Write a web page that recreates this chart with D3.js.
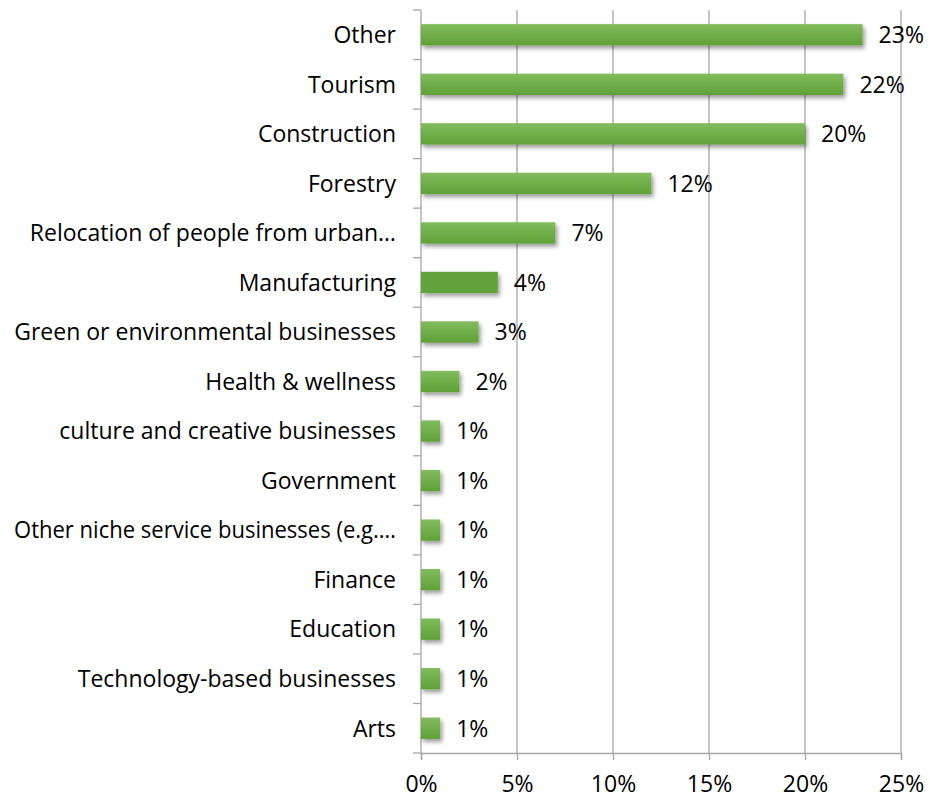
<!DOCTYPE html>
<html>
<head>
<meta charset="utf-8">
<script src="https://cdn.jsdelivr.net/npm/d3@7/dist/d3.min.js"></script>
<style>
  html, body { margin: 0; padding: 0; background: #ffffff; }
  svg { display: block; }
  text { font-family: "Open Sans", Lato, sans-serif; fill: #000; }
</style>
</head>
<body>
<svg id="chart" width="930" height="801"></svg>
<script>
// Sectors, top to bottom, with their share of responses (%)
const categories = [
  "Other",
  "Tourism",
  "Construction",
  "Forestry",
  "Relocation of people from urban…",
  "Manufacturing",
  "Green or environmental businesses",
  "Health & wellness",
  "culture and creative businesses",
  "Government",
  "Other niche service businesses (e.g.…",
  "Finance",
  "Education",
  "Technology-based businesses",
  "Arts"
];
const values = [23, 22, 20, 12, 7, 4, 3, 2, 1, 1, 1, 1, 1, 1, 1];
const xTicks = [0, 5, 10, 15, 20, 25];

const svg = d3.select("#chart");
const margin = { left: 421, right: 29, top: 10, bottom: 48 };
const W = 930, H = 801;
const fontSize = "23px";
const maxLabelWidth = 382;

const x = d3.scaleLinear().domain([0, 25]).range([margin.left, W - margin.right]);
const y = d3.scaleBand().domain(categories).range([margin.top, H - margin.bottom]).paddingInner(0.57).paddingOuter(0.285);

// bar fill gradient and soft drop shadow
const defs = svg.append("defs");
const grad = defs.append("linearGradient").attr("id", "barGrad")
  .attr("x1", 0).attr("y1", 0).attr("x2", 0).attr("y2", 1);
grad.append("stop").attr("offset", "0%").attr("stop-color", "#82bc5e");
grad.append("stop").attr("offset", "100%").attr("stop-color", "#5fa136");
const sh = defs.append("filter").attr("id", "shadow")
  .attr("x", "-20%").attr("y", "-50%").attr("width", "150%").attr("height", "250%");
sh.append("feDropShadow").attr("dx", 2).attr("dy", 3).attr("stdDeviation", 2.2)
  .attr("flood-color", "#000").attr("flood-opacity", 0.4);

// vertical gridlines
svg.append("g").selectAll("line").data(xTicks.slice(1)).join("line")
  .attr("x1", d => x(d)).attr("x2", d => x(d))
  .attr("y1", margin.top).attr("y2", H - margin.bottom)
  .attr("stroke", "#a6a6a6").attr("stroke-width", 1.3);

// bottom axis
const xAxis = d3.axisBottom(x).tickValues(xTicks).tickFormat(d => d + "%").tickSize(7).tickPadding(16);
const gx = svg.append("g").attr("transform", `translate(0,${H - margin.bottom})`).call(xAxis);
gx.select(".domain").attr("stroke", "#a6a6a6").attr("stroke-width", 1.3);
gx.selectAll(".tick line").attr("stroke", "#a6a6a6").attr("stroke-width", 1.3);
gx.selectAll(".tick text").style("font-size", fontSize).style("font-family", "'Open Sans', Lato, sans-serif").attr("fill", "#000");

// left axis with ticks between categories
const gy = svg.append("g");
gy.append("line").attr("x1", x(0)).attr("x2", x(0))
  .attr("y1", margin.top).attr("y2", H - margin.bottom)
  .attr("stroke", "#a6a6a6").attr("stroke-width", 1.3);
const step = y.step();
const bounds = d3.range(categories.length + 1).map(i => y.range()[0] + i * step);
gy.selectAll("line.tk").data(bounds).join("line").attr("class", "tk")
  .attr("x1", x(0) - 8).attr("x2", x(0))
  .attr("y1", d => d).attr("y2", d => d)
  .attr("stroke", "#a6a6a6").attr("stroke-width", 1.3);
gy.selectAll("text").data(categories).join("text")
  .attr("x", x(0) - 25)
  .attr("y", d => y(d) + y.bandwidth() / 2)
  .attr("dy", "0.36em")
  .attr("text-anchor", "end")
  .style("font-size", fontSize)
  .text(d => d)
  .each(function () {
    // squeeze any label that would run past the left edge
    const w = this.getComputedTextLength();
    if (w > maxLabelWidth) {
      d3.select(this).attr("textLength", maxLabelWidth).attr("lengthAdjust", "spacingAndGlyphs");
    }
  });

// bars
svg.append("g").selectAll("rect").data(values).join("rect")
  .attr("x", x(0))
  .attr("y", (d, i) => y(categories[i]))
  .attr("width", d => x(d) - x(0))
  .attr("height", y.bandwidth())
  .attr("fill", (d, i) => categories[i] === "Manufacturing" ? "#62a33b" : "url(#barGrad)")
  .attr("filter", "url(#shadow)");

// value labels
svg.append("g").selectAll("text").data(values).join("text")
  .attr("x", d => x(d) + 16)
  .attr("y", (d, i) => y(categories[i]) + y.bandwidth() / 2)
  .attr("dy", "0.36em")
  .style("font-size", fontSize)
  .text(d => d + "%");
</script>
</body>
</html>
